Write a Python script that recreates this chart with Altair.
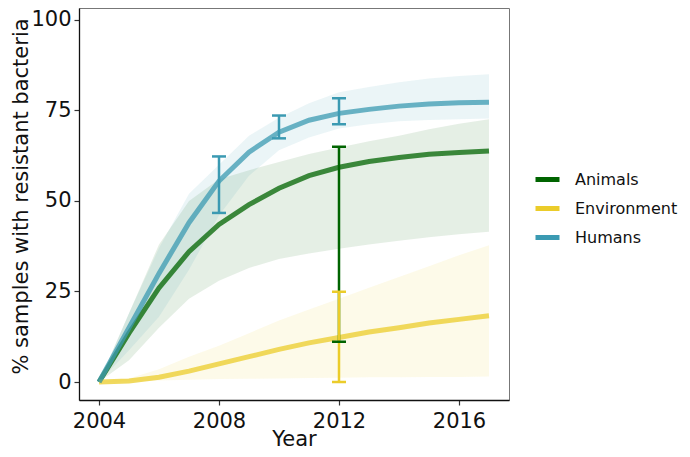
import altair as alt
import pandas as pd

years = list(range(2004, 2018))
groups = ["Animals", "Environment", "Humans"]
colors = ["#006400", "#EBCC2A", "#3B9AB2"]

animals_mid = [0, 13.5, 26, 36, 43.5, 49, 53.5, 57, 59.3, 60.9, 62, 62.9, 63.4, 63.8]
animals_lo = [0, 6, 15, 23, 28, 31.5, 34, 35.5, 36.8, 38, 39, 40, 40.8, 41.5]
animals_hi = [0, 19, 38, 50, 56, 58.5, 60.8, 63, 64.8, 66.5, 68, 69.8, 71.3, 72.6]

env_mid = [0, 0.3, 1.3, 3, 5, 7, 9, 10.8, 12.3, 13.8, 15, 16.3, 17.3, 18.3]
env_lo = [0, 0.2, 0.4, 0.6, 0.8, 0.9, 1.0, 1.1, 1.2, 1.3, 1.3, 1.4, 1.4, 1.5]
env_hi = [0, 1, 3.5, 7, 10, 13.5, 17, 20, 23, 26, 29, 32, 35, 37.8]

hum_mid = [0, 15, 30, 44, 55.5, 63.5, 69, 72.3, 74.2, 75.3, 76.2, 76.8, 77.1, 77.3]
hum_lo = [0, 8.8, 18, 31, 46, 57, 64, 67.5, 70, 71.2, 72, 72.4, 72.6, 72.8]
hum_hi = [0, 19, 37, 52, 60, 68, 73, 77, 80, 81.5, 82.8, 83.8, 84.5, 85]

err_group = ["Humans", "Humans", "Humans", "Animals", "Environment"]
err_year = [2008, 2010, 2012, 2012, 2012]
err_lo = [46.7, 67.3, 71.2, 11.1, 0]
err_hi = [62.3, 73.6, 78.4, 65, 24.9]

rows = []
for g, mid, lo, hi in [("Animals", animals_mid, animals_lo, animals_hi),
                       ("Environment", env_mid, env_lo, env_hi),
                       ("Humans", hum_mid, hum_lo, hum_hi)]:
    for yr, m, l, h in zip(years, mid, lo, hi):
        rows.append({"group": g, "year": yr, "mid": m, "lo": l, "hi": h})
df = pd.DataFrame(rows)
err = pd.DataFrame({"group": err_group, "year": err_year, "lo": err_lo, "hi": err_hi})

FONT = "DejaVu Sans"
xs = alt.Scale(domain=[2003.333, 2017.667], nice=False, zero=False)
ys = alt.Scale(domain=[-4.97, 103.3], nice=False, zero=False)
cs = alt.Scale(domain=groups, range=colors)

xax = alt.Axis(values=[2004, 2008, 2012, 2016], format="d", title="Year",
               titleBaseline="alphabetic", titleY=45, labelPadding=5)
yax = alt.Axis(values=[0, 25, 50, 75, 100], title="% samples with resistant bacteria",
               titleBaseline="alphabetic", titleX=-52, titleY=188, titleFontSize=21,
               titleAngle=270)

X = alt.X("year:Q", scale=xs, axis=xax)
Y = alt.Y("mid:Q", scale=ys, axis=yax)

bands = alt.Chart(df).mark_area(opacity=0.1).encode(
    x=X,
    y=alt.Y("lo:Q", scale=ys, axis=yax),
    y2="hi:Q",
    color=alt.Color("group:N", scale=cs, legend=None),
)

lines = alt.Chart(df).mark_line(strokeWidth=5, opacity=0.75).encode(
    x=X,
    y=Y,
    color=alt.Color("group:N", scale=cs, sort=groups,
                    legend=alt.Legend(title=None, orient="none", legendX=454, legendY=157,
                                      symbolType="stroke", symbolSize=576,
                                      symbolStrokeWidth=5, symbolOpacity=1,
                                      labelFontSize=16, labelFont=FONT, labelColor="#111",
                                      rowPadding=4, labelOffset=13)),
)

rules = alt.Chart(err).mark_rule(strokeWidth=2.5).encode(
    x=X,
    y=alt.Y("lo:Q", scale=ys, axis=yax),
    y2="hi:Q",
    color=alt.Color("group:N", scale=cs, legend=None),
)
caps_lo = alt.Chart(err).mark_tick(orient="horizontal", size=14, thickness=2.5, opacity=1).encode(
    x=X,
    y=alt.Y("lo:Q", scale=ys, axis=yax),
    color=alt.Color("group:N", scale=cs, legend=None),
)
caps_hi = alt.Chart(err).mark_tick(orient="horizontal", size=14, thickness=2.5, opacity=1).encode(
    x=X,
    y=alt.Y("hi:Q", scale=ys, axis=yax),
    color=alt.Color("group:N", scale=cs, legend=None),
)

chart = alt.layer(bands, lines, rules, caps_lo, caps_hi).resolve_scale(
    color="independent"
).properties(
    width=430, height=392,
    autosize=alt.AutoSizeParams(type="none"),
    padding={"left": 71, "top": 0, "right": 173, "bottom": 49},
).configure_view(
    stroke="#777", strokeWidth=1,
).configure_axis(
    grid=False, domainColor="#111", domainWidth=1.3, tickColor="#333", tickSize=5,
    tickWidth=1.2, labelFont=FONT, labelFontSize=21, labelColor="#111", labelPadding=3,
    titleFont=FONT, titleFontSize=21, titleFontWeight="normal", titleColor="#111",
)

chart.save("out.html", embed_options={"renderer": "svg", "actions": False})
